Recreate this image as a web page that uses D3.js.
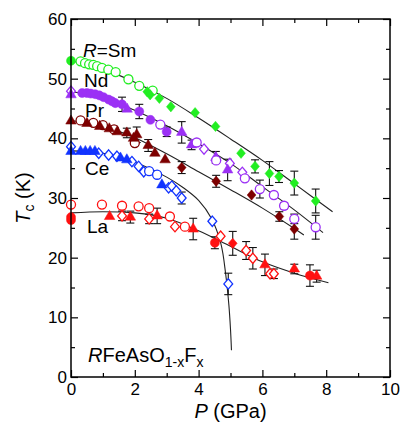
<!DOCTYPE html>
<html>
<head>
<meta charset="utf-8">
<script src="https://cdn.jsdelivr.net/npm/d3@7"></script>
<style>
  body { margin: 0; background: #fff; }
  text { font-family: "Liberation Sans", Arial, sans-serif; }
</style>
</head>
<body>
<svg id="chart"></svg>
<script>
// ---- data: [P (GPa), Tc (K), error] ----
const xTicks = [0, 2, 4, 6, 8, 10];
const yTicks = [0, 10, 20, 30, 40, 50, 60];

// Sm
const smFilledCircle = [[0, 53.0, 0]];
const smOpenCircle = [[0.3, 52.9, 0], [0.44, 52.6, 0], [0.57, 52.4, 0], [0.7, 52.3, 0], [0.82, 52.1, 0],
  [0.97, 51.8, 0], [1.17, 51.5, 0], [1.4, 51.1, 0], [1.8, 49.9, 0], [2.14, 48.8, 0], [2.56, 48.0, 0]];
const smFilledDiamond = [[2.39, 47.8, 0], [2.48, 47.3, 0], [2.77, 46.7, 0], [3.13, 45.3, 0], [3.89, 44.3, 0],
  [4.53, 42.0, 0], [5.33, 37.5, 0], [5.77, 35.3, 1.1], [6.22, 34.1, 2.0], [6.52, 33.6, 1.0],
  [7.0, 32.5, 2.0], [7.67, 29.5, 2.0]];
const smFit = [[0, 53.0], [1, 51.6], [2, 49.4], [3, 46.7], [4, 43.4], [5, 39.9], [6, 36.3], [7, 32.4], [8.2, 27.7]];

// Nd
const ndOpenDiamond = [[0, 47.9, 0], [4.17, 38.2, 0], [4.98, 35.8, 0], [5.37, 34.3, 0]];
const ndFilledTriangle = [[0, 47.3, 0], [1.76, 44.9, 0], [3.47, 41.0, 1.8], [3.78, 38.9, 0.8],
  [4.54, 36.8, 1.0], [4.91, 34.7, 1.8]];
const ndFilledCircle = [[0.35, 47.6, 0], [0.5, 47.6, 0], [0.62, 47.5, 0], [0.76, 47.4, 0], [0.89, 47.2, 0],
  [1.02, 46.9, 0], [1.18, 46.5, 0], [1.29, 46.2, 0], [1.39, 45.9, 0], [1.6, 45.7, 1.2],
  [2.14, 44.5, 1.2], [2.49, 43.1, 0], [3.0, 41.1, 0.8]];
const ndOpenCircle = [[2.8, 42.3, 0], [3.94, 39.3, 0], [4.55, 36.3, 0], [5.45, 33.3, 0], [5.92, 31.5, 1.5],
  [6.36, 30.5, 0], [6.68, 28.7, 0.5], [7.0, 26.5, 0.8], [7.67, 25.1, 2.0]];
const ndFit = [[0, 47.8], [1, 46.9], [2, 44.7], [3, 42.1], [4, 39.1], [5, 35.8], [6, 31.9], [7, 28.0], [7.9, 24.2]];

// Pr
const prFilledTriangle = [[0, 42.9, 0], [0.5, 42.5, 0], [0.9, 42.0, 0], [1.2, 41.6, 0], [1.45, 41.1, 0],
  [1.75, 40.9, 0.8], [2.06, 40.6, 1.3], [1.96, 40.0, 0], [2.42, 38.8, 1.0], [2.63, 37.5, 0], [2.95, 36.4, 0]];
const prOpenCircle = [[0.3, 43.0, 0], [0.7, 42.6, 0], [1.0, 42.2, 0], [1.35, 41.5, 0], [2.0, 39.2, 0]];
const prFilledDiamond = [[3.47, 35.1, 1.0], [4.55, 32.8, 1.0], [5.66, 30.5, 0], [6.53, 26.9, 0.8], [7.0, 24.8, 1.7]];
const prFit = [[0, 43.0], [1, 42.0], [2, 40.1], [3, 37.4], [4, 34.4], [5, 31.4], [6, 28.3], [7, 24.9], [7.3, 23.8]];

// Ce
const ceOpenDiamond = [[0, 38.6, 0], [0.87, 37.5, 0], [1.18, 37.2, 0], [1.44, 37.0, 0], [1.91, 36.1, 0],
  [2.12, 35.3, 0], [2.28, 34.4, 0], [3.06, 31.7, 0], [3.16, 32.0, 0], [3.3, 31.2, 0], [3.47, 30.0, 1.0],
  [4.43, 26.1, 0], [4.93, 15.6, 1.8]];
const ceFilledTriangle = [[0, 37.8, 0], [0.3, 37.8, 0], [0.45, 37.8, 0], [0.6, 37.8, 0], [0.75, 37.8, 0],
  [1.55, 36.7, 0], [1.75, 36.4, 0], [2.85, 32.2, 0]];
const ceOpenCircle = [[2.45, 34.5, 0], [2.7, 33.9, 0]];
const ceFit = [[0, 37.9], [1, 37.5], [2, 36.0], [3, 33.5], [3.5, 31.8], [4, 29.6], [4.4, 26.6], [4.7, 22.3],
  [4.85, 17.2], [4.95, 12.0], [5.0, 8.0], [5.03, 4.5]];

// La
const laFilledCircle = [[0, 26.8, 0], [0, 26.3, 0], [4.51, 22.5, 1.0], [7.49, 17.0, 1.8]];
const laOpenCircle = [[0, 28.9, 0], [0.97, 28.9, 0], [1.6, 28.7, 0], [2.12, 28.6, 0], [2.45, 28.3, 0],
  [3.1, 26.9, 0], [3.57, 25.2, 0]];
const laFilledTriangle = [[1.21, 26.9, 0], [1.86, 26.8, 1.0], [2.7, 27.0, 1.3], [3.83, 24.8, 1.8],
  [6.08, 18.8, 1.8], [7.0, 18.1, 0.8], [7.7, 16.9, 1.0]];
const laOpenDiamond = [[1.6, 27.0, 0.8], [2.45, 26.5, 0.8], [3.26, 25.2, 0], [4.69, 23.6, 0],
  [5.49, 21.2, 1.5], [5.7, 19.9, 1.8], [6.24, 17.3, 0], [6.36, 17.3, 0.8]];
const laFilledDiamond = [[5.07, 22.4, 2.0]];
const laFit = [[0, 27.5], [1, 27.7], [2, 27.5], [3, 26.6], [4, 24.5], [5, 21.9], [6, 19.3], [7, 17.4], [8.07, 15.8]];

// ---- drawing ----
const W = 409, H = 434;
const margin = { top: 19, right: 19, bottom: 57, left: 71 };
const width = W - margin.left - margin.right;
const height = H - margin.top - margin.bottom;

const colors = { Sm: "#22ee22", Nd: "#9b30f5", Pr: "#7d0000", Ce: "#1133ff", La: "#ff1111" };

const svg = d3.select("#chart").attr("width", W).attr("height", H);
const chart = svg.append("g").attr("transform", `translate(${margin.left},${margin.top})`);

const x = d3.scaleLinear().domain([0, 10]).range([0, width]);
const y = d3.scaleLinear().domain([0, 60]).range([height, 0]);

// custom diamond, a bit squarer than d3's
const diamond = {
  draw(ctx, size) {
    const h = Math.sqrt(size) * 0.62, w = h * 0.85;
    ctx.moveTo(0, -h); ctx.lineTo(w, 0); ctx.lineTo(0, h); ctx.lineTo(-w, 0); ctx.closePath();
  }
};
const shapes = {
  circle: d3.symbol().type(d3.symbolCircle).size(64),
  diamond: d3.symbol().type(diamond).size(70),
  triangle: d3.symbol().type(d3.symbolTriangle).size(48)
};

const series = [
  { data: smOpenCircle, c: colors.Sm, shape: "circle", open: true },
  { data: smFilledCircle, c: colors.Sm, shape: "circle", open: false },
  { data: smFilledDiamond, c: colors.Sm, shape: "diamond", open: false },
  { data: ndOpenDiamond, c: colors.Nd, shape: "diamond", open: true },
  { data: ndFilledTriangle, c: colors.Nd, shape: "triangle", open: false },
  { data: ndFilledCircle, c: colors.Nd, shape: "circle", open: false },
  { data: ndOpenCircle, c: colors.Nd, shape: "circle", open: true },
  { data: prOpenCircle, c: colors.Pr, shape: "circle", open: true },
  { data: prFilledTriangle, c: colors.Pr, shape: "triangle", open: false },
  { data: prFilledDiamond, c: colors.Pr, shape: "diamond", open: false },
  { data: ceOpenDiamond, c: colors.Ce, shape: "diamond", open: true },
  { data: ceOpenCircle, c: colors.Ce, shape: "circle", open: true },
  { data: ceFilledTriangle, c: colors.Ce, shape: "triangle", open: false },
  { data: laOpenCircle, c: colors.La, shape: "circle", open: true },
  { data: laOpenDiamond, c: colors.La, shape: "diamond", open: true },
  { data: laFilledCircle, c: colors.La, shape: "circle", open: false },
  { data: laFilledTriangle, c: colors.La, shape: "triangle", open: false },
  { data: laFilledDiamond, c: colors.La, shape: "diamond", open: false }
];

// fit lines
const line = d3.line().x(d => x(d[0])).y(d => y(d[1])).curve(d3.curveCatmullRom);
[smFit, ndFit, prFit, ceFit, laFit].forEach(f => {
  chart.append("path").attr("d", line(f))
    .attr("fill", "none").attr("stroke", "#222").attr("stroke-width", 1.1);
});

// error bars
const errG = chart.append("g").attr("stroke", "#111").attr("stroke-width", 1.1);
series.forEach(s => {
  s.data.filter(d => d[2] > 0).forEach(d => {
    const cx = x(d[0]), y1 = y(d[1] + d[2]), y2 = y(d[1] - d[2]);
    errG.append("line").attr("x1", cx).attr("x2", cx).attr("y1", y1).attr("y2", y2);
    errG.append("line").attr("x1", cx - 4).attr("x2", cx + 4).attr("y1", y1).attr("y2", y1);
    errG.append("line").attr("x1", cx - 4).attr("x2", cx + 4).attr("y1", y2).attr("y2", y2);
  });
});

// markers
series.forEach(s => {
  chart.append("g").selectAll("path")
    .data(s.data)
    .enter()
    .append("path")
    .attr("transform", d => `translate(${x(d[0])},${y(d[1])})`)
    .attr("d", shapes[s.shape]())
    .attr("fill", s.open ? "#fff" : s.c)
    .attr("stroke", s.c)
    .attr("stroke-width", s.open ? 1.3 : 0.5);
});

// axes: inward ticks on all sides
const fs = 17;
chart.append("g").attr("transform", `translate(0,${height})`)
  .call(d3.axisBottom(x).tickValues(xTicks).tickSize(-7).tickPadding(6).tickFormat(d3.format("d")));
chart.append("g").attr("transform", `translate(0,${height})`)
  .call(d3.axisBottom(x).tickValues(d3.range(1, 10, 2)).tickSize(-4).tickFormat(""));
chart.append("g")
  .call(d3.axisTop(x).tickValues(xTicks).tickSize(-7).tickFormat(""));
chart.append("g")
  .call(d3.axisTop(x).tickValues(d3.range(1, 10, 2)).tickSize(-4).tickFormat(""));
chart.append("g")
  .call(d3.axisLeft(y).tickValues(yTicks).tickSize(-7).tickPadding(4).tickFormat(d3.format("d")));
chart.append("g")
  .call(d3.axisLeft(y).tickValues(d3.range(5, 60, 10)).tickSize(-4).tickFormat(""));
chart.append("g").attr("transform", `translate(${width},0)`)
  .call(d3.axisRight(y).tickValues(yTicks).tickSize(-7).tickFormat(""));
chart.append("g").attr("transform", `translate(${width},0)`)
  .call(d3.axisRight(y).tickValues(d3.range(5, 60, 10)).tickSize(-4).tickFormat(""));

chart.selectAll(".domain").remove();
chart.selectAll(".tick line").attr("stroke", "#000").attr("stroke-width", 1.2);
chart.selectAll(".tick text").attr("font-size", fs).attr("fill", "#000")
  .attr("font-family", "'Liberation Sans', Arial, sans-serif");

chart.append("rect").attr("width", width).attr("height", height)
  .attr("fill", "none").attr("stroke", "#000").attr("stroke-width", 1.5);

// axis titles
svg.append("text")
  .attr("x", margin.left + width / 2).attr("y", 418)
  .attr("text-anchor", "middle").attr("font-size", 20)
  .html('<tspan font-style="italic">P</tspan> (GPa)');

svg.append("text")
  .attr("transform", `translate(30,${margin.top + height / 2}) rotate(-90)`)
  .attr("text-anchor", "middle").attr("font-size", 20)
  .html('<tspan font-style="italic">T</tspan><tspan font-size="14" dy="4">c</tspan><tspan dy="-4"> (K)</tspan>');

// series labels
const labels = [
  { t: '<tspan font-style="italic">R</tspan>=Sm', px: 83, py: 56.5 },
  { t: "Nd", px: 84, py: 86.5 },
  { t: "Pr", px: 85, py: 117 },
  { t: "Ce", px: 85, py: 174.5 },
  { t: "La", px: 87, py: 232.5 }
];
labels.forEach(l => {
  svg.append("text").attr("x", l.px).attr("y", l.py).attr("font-size", 19).html(l.t);
});

svg.append("text").attr("x", 88).attr("y", 362).attr("font-size", 20)
  .html('<tspan font-style="italic">R</tspan>FeAsO<tspan font-size="14" dy="5">1-x</tspan><tspan dy="-5">F</tspan><tspan font-size="14" dy="5">x</tspan>');
</script>
</body>
</html>
